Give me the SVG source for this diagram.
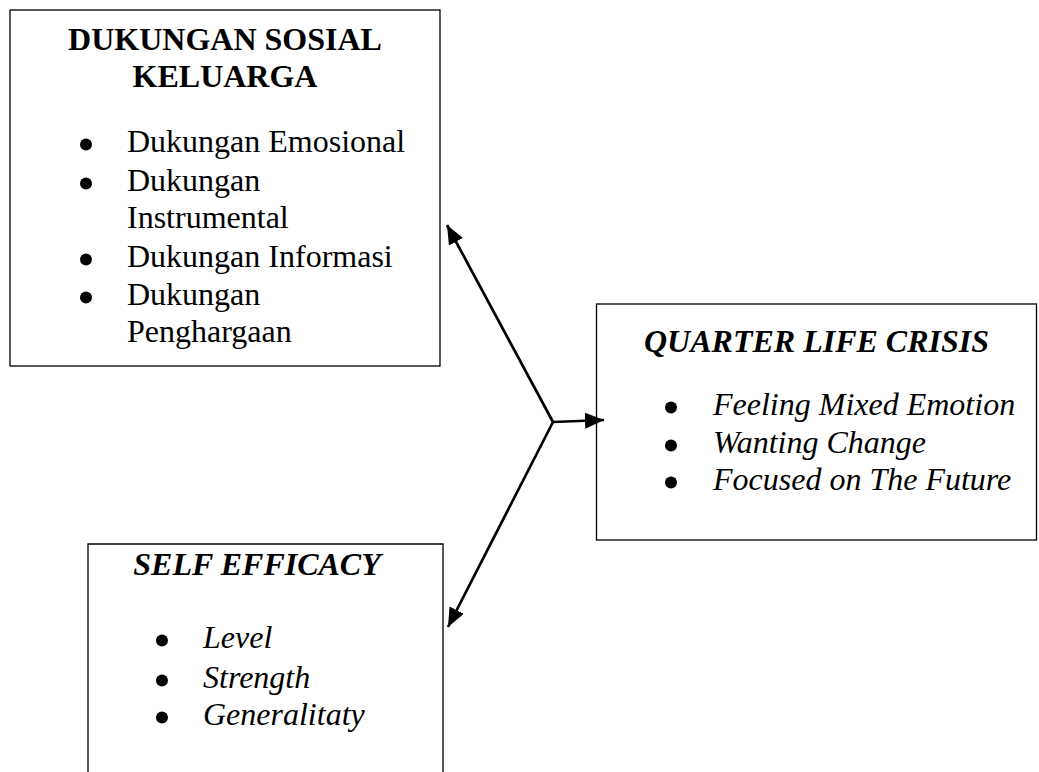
<svg xmlns="http://www.w3.org/2000/svg" width="1039" height="772" viewBox="0 0 1039 772">
<style>
.box{fill:#fff;stroke:#000;stroke-width:1.3}
.t{font-family:"Liberation Serif","Times New Roman",serif;font-size:32px;fill:#000}
.b{font-weight:bold}
.i{font-style:italic}
.c{text-anchor:middle}
.dot{fill:#000}
.conn{fill:none;stroke:#000;stroke-width:2.7}
</style>
<defs>
<marker id="ah" markerUnits="userSpaceOnUse" markerWidth="20" markerHeight="16" refX="19" refY="8" orient="auto">
<path d="M0,0 L19,8 L0,16 z" fill="#000"/>
</marker>
</defs>
<rect width="1039" height="772" fill="#fff"/>
<g id="node-dukungan">
<rect class="box" x="10" y="10" width="430" height="356"/>
<text class="t b c" x="225" y="50">DUKUNGAN SOSIAL</text>
<text class="t b c" x="225" y="87">KELUARGA</text>
<circle class="dot" cx="86" cy="144.5" r="6"/>
<text class="t" x="127" y="152">Dukungan Emosional</text>
<circle class="dot" cx="86" cy="183.5" r="6"/>
<text class="t" x="127" y="191">Dukungan</text>
<text class="t" x="127" y="228">Instrumental</text>
<circle class="dot" cx="86" cy="259.5" r="6"/>
<text class="t" x="127" y="267">Dukungan Informasi</text>
<circle class="dot" cx="86" cy="297.5" r="6"/>
<text class="t" x="127" y="305">Dukungan</text>
<text class="t" x="127" y="342">Penghargaan</text>
</g>
<g id="node-qlc">
<rect class="box" x="596.5" y="304" width="440" height="236"/>
<text class="t b i c" x="816.5" y="352">QUARTER LIFE CRISIS</text>
<circle class="dot" cx="671" cy="407.5" r="6"/>
<text class="t i" x="713" y="415">Feeling Mixed Emotion</text>
<circle class="dot" cx="671" cy="445.5" r="6"/>
<text class="t i" x="713" y="453">Wanting Change</text>
<circle class="dot" cx="671" cy="482.5" r="6"/>
<text class="t i" x="713" y="490">Focused on The Future</text>
</g>
<g id="node-self">
<path class="box" d="M88,775 L88,544 L443,544 L443,775"/>
<text class="t b i c" x="257" y="575">SELF EFFICACY</text>
<circle class="dot" cx="162" cy="640.5" r="6"/>
<text class="t i" x="203" y="648">Level</text>
<circle class="dot" cx="162" cy="680.5" r="6"/>
<text class="t i" x="203" y="688">Strength</text>
<circle class="dot" cx="162" cy="717.5" r="6"/>
<text class="t i" x="203" y="725">Generalitaty</text>
</g>
<g id="connectors">
<path class="conn" d="M553,422 L447,225" marker-end="url(#ah)"/>
<path class="conn" d="M553,422 L448,627" marker-end="url(#ah)"/>
<path class="conn" d="M553,422 L604,420" marker-end="url(#ah)"/>
</g>
</svg>
